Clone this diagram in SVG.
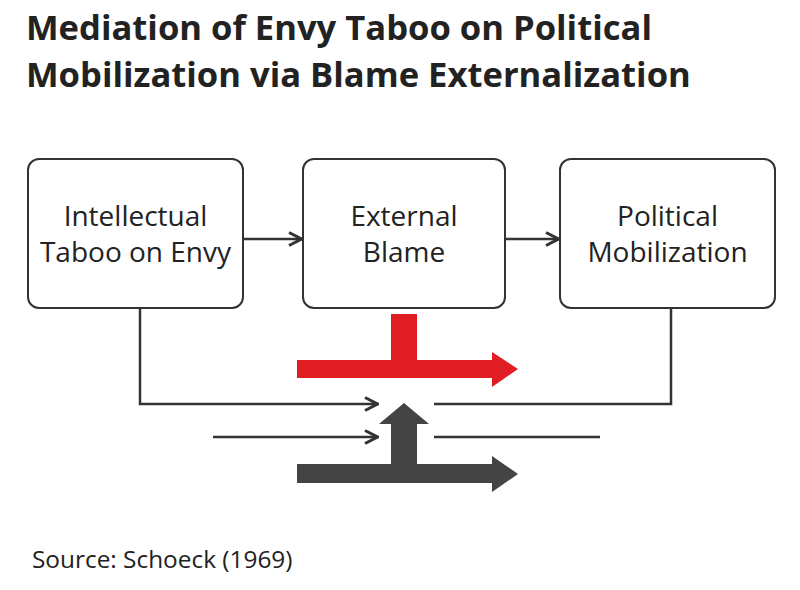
<svg xmlns="http://www.w3.org/2000/svg" width="800" height="590" viewBox="0 0 800 590">
<style>
.title{font-family:"Open Sans","Liberation Sans",sans-serif;font-weight:700;font-size:34.6px;fill:#222}
.lbl{font-family:"Open Sans","Liberation Sans",sans-serif;font-size:28px;fill:#222;text-anchor:middle}
.src{font-family:"Open Sans","Liberation Sans",sans-serif;font-size:24.4px;fill:#222}
.box{fill:#fff;stroke:#333;stroke-width:2}
.ln{fill:none;stroke:#333;stroke-width:2.5}
</style>
<defs>
<marker id="open" viewBox="0 0 16 16" refX="15" refY="8" markerWidth="16" markerHeight="16" markerUnits="userSpaceOnUse" orient="auto">
<path d="M2,1.5 L14.5,8 L2,14.5" fill="none" stroke="#333" stroke-width="3"/>
</marker>
</defs>
<rect width="800" height="590" fill="#fff"/>
<text class="title" x="26" y="40">Mediation of Envy Taboo on Political</text>
<text class="title" x="26" y="87">Mobilization via Blame Externalization</text>
<g id="node-taboo">
<rect class="box" x="28" y="159" width="215" height="149" rx="11"/>
<text class="lbl" x="135.5" y="226">Intellectual</text>
<text class="lbl" x="135.5" y="262">Taboo on Envy</text>
</g>
<g id="node-blame">
<rect class="box" x="303" y="159" width="202" height="149" rx="11"/>
<text class="lbl" x="404" y="226">External</text>
<text class="lbl" x="404" y="262">Blame</text>
</g>
<g id="node-mobilization">
<rect class="box" x="560" y="159" width="215" height="149" rx="11"/>
<text class="lbl" x="667.5" y="226">Political</text>
<text class="lbl" x="667.5" y="262">Mobilization</text>
</g>
<g id="connectors">
<line class="ln" x1="243" y1="239" x2="302" y2="239" marker-end="url(#open)"/>
<line class="ln" x1="505" y1="239" x2="559" y2="239" marker-end="url(#open)"/>
<polyline class="ln" points="140,308 140,404 378,404" marker-end="url(#open)"/>
<polyline class="ln" points="671,308 671,404 434,404"/>
<line class="ln" x1="213" y1="437" x2="378" y2="437" marker-end="url(#open)"/>
<line class="ln" x1="434" y1="437" x2="600" y2="437"/>
<path id="red-arrow" d="M391,314 L417,314 L417,360 L492,360 L492,352 L518,369 L492,387 L492,378 L297,378 L297,360 L391,360 Z" fill="#e01e24"/>
<path id="dark-arrow" d="M404,403 L429,424 L417,424 L417,464 L492,464 L492,456 L518,474 L492,492 L492,483 L297,483 L297,464 L391,464 L391,424 L379,424 Z" fill="#444"/>
</g>
<text class="src" x="32" y="568">Source: Schoeck (1969)</text>
</svg>
